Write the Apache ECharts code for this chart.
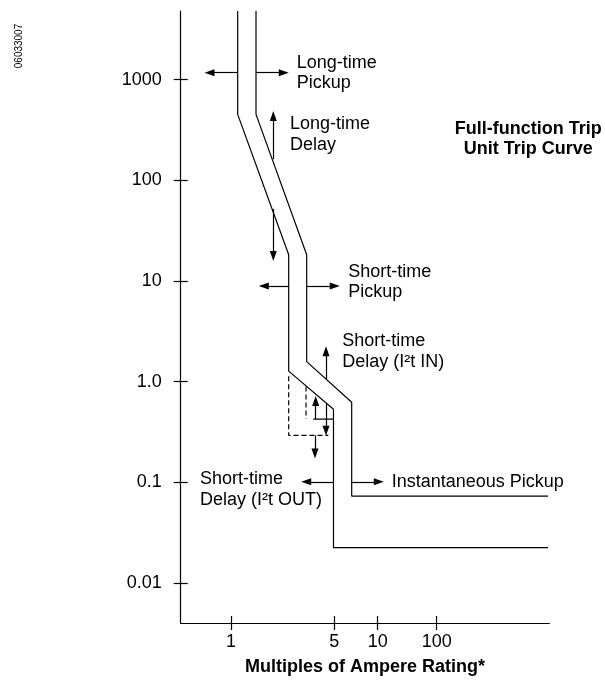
<!DOCTYPE html>
<html>
<head>
<meta charset="utf-8">
<script src="https://cdn.jsdelivr.net/npm/echarts@6/dist/echarts.min.js"></script>
<style>
  html, body { margin: 0; padding: 0; background: #fff; }
  #chart { width: 605px; height: 681px; }
</style>
</head>
<body>
<div id="chart"></div>
<script>
// tick marks (x axis is a schematic scale, not a true log scale)
var yTickValues = [0.01, 0.1, 1, 10, 100, 1000];
var yTickLabels = ['0.01', '0.1', '1.0', '10', '100', '1000'];
var xTickValues = [13.65, 41.67, 53.45, 69.45];
var xTickLabels = ['1', '5', '10', '100'];

// trip band: lower (left) and upper (right) boundaries
var lowerX = [15.46, 15.46, 29.3, 29.3, 41.45, 41.45, 99.65];
var lowerY = [4800, 451, 18.2, 1.27, 0.532, 0.0224, 0.0224];
var upperX = [20.43, 20.43, 34.18, 34.18, 46.39, 46.39, 99.65];
var upperY = [4800, 451, 18.2, 1.58, 0.624, 0.0729, 0.0729];

// I2t OUT dashed outlines
var dashOuterX = [29.3, 29.3, 40.04];
var dashOuterY = [1.13, 0.292, 0.292];
var dashInnerX = [34.0, 34.0];
var dashInnerY = [0.893, 0.424];
var stepX = [35.97, 41.45];
var stepY = [0.424, 0.424];

// adjustment arrows: [xFrom, yFrom, xTo, yTo]
var ltPickupLeft = [15.46, 1170, 7.81, 1170];
var ltPickupRight = [20.43, 1170, 27.97, 1170];
var ltDelayUp = [25.12, 162, 25.12, 435];
var ltDelayDown = [25.12, 51.9, 25.12, 17.7];
var stPickupLeft = [29.3, 8.91, 22.54, 8.91];
var stPickupRight = [34.18, 8.91, 41.8, 8.91];
var i2tInUp = [39.42, 1.04, 39.42, 2.0];
var innerUp = [36.62, 0.424, 36.62, 0.641];
var innerDown = [39.42, 0.6, 39.42, 0.324];
var outerDown = [36.43, 0.292, 36.43, 0.193];
var i2tOutLeft = [41.45, 0.101, 34.05, 0.101];
var instRight = [46.39, 0.101, 53.74, 0.101];

var arrows = [ltPickupLeft, ltPickupRight, ltDelayUp, ltDelayDown, stPickupLeft,
    stPickupRight, i2tInUp, innerUp, innerDown, outerDown, i2tOutLeft, instRight];

function zip(xs, ys) {
    return xs.map(function (x, i) { return [x, ys[i]]; });
}

function yLabel(v) {
    var best = 0;
    for (var i = 1; i < yTickValues.length; i++) {
        if (Math.abs(Math.log10(v) - Math.log10(yTickValues[i])) <
            Math.abs(Math.log10(v) - Math.log10(yTickValues[best]))) best = i;
    }
    return yTickLabels[best];
}
function xLabel(v) {
    var best = 0;
    for (var i = 1; i < xTickValues.length; i++) {
        if (Math.abs(v - xTickValues[i]) < Math.abs(v - xTickValues[best])) best = i;
    }
    return xTickLabels[best];
}

var FONT = '"Liberation Sans", Arial, sans-serif';
var ink = '#000';

var dom = document.getElementById('chart');
var myChart = echarts.init(dom, null, { renderer: 'canvas' });

var lineStyle = { color: ink, width: 1.2 };

var option = {
    animation: false,
    grid: { left: 180.7, right: 55.7, top: 11, bottom: 55.7 },
    xAxis: [
        {
            type: 'value', min: 0, max: 100,
            splitLine: { show: false },
            axisLine: { lineStyle: { color: ink, width: 1.2 } },
            axisTick: { customValues: xTickValues, length: 7, lineStyle: { color: ink, width: 1.2 } },
            axisLabel: {
                customValues: xTickValues, formatter: xLabel, margin: 10,
                color: ink, fontSize: 18, fontFamily: FONT
            },
            name: 'Multiples of Ampere Rating*',
            nameLocation: 'middle', nameGap: 35,
            nameTextStyle: { color: ink, fontSize: 18, fontWeight: 'bold', fontFamily: FONT }
        },
        {
            type: 'value', min: 0, max: 100, position: 'bottom',
            splitLine: { show: false },
            axisLine: { show: false },
            axisTick: { customValues: xTickValues, inside: true, length: 7, lineStyle: { color: ink, width: 1.2 } },
            axisLabel: { show: false }
        }
    ],
    yAxis: [
        {
            type: 'log', min: 0.004, max: 4800,
            splitLine: { show: false },
            axisLine: { lineStyle: { color: ink, width: 1.2 } },
            axisTick: { customValues: yTickValues, length: 7, lineStyle: { color: ink, width: 1.2 } },
            axisLabel: {
                customValues: yTickValues, formatter: yLabel, margin: 19,
                color: ink, fontSize: 18, fontFamily: FONT
            }
        },
        {
            type: 'log', min: 0.004, max: 4800, position: 'left',
            splitLine: { show: false },
            axisLine: { show: false },
            axisTick: { customValues: yTickValues, inside: true, length: 7, lineStyle: { color: ink, width: 1.2 } },
            axisLabel: { show: false }
        }
    ],
    series: [
        {
            name: 'lower', type: 'line', data: zip(lowerX, lowerY),
            symbol: 'none', lineStyle: lineStyle, silent: true,
            markLine: {
                silent: true, animation: false,
                symbol: ['none', 'triangle'], symbolSize: [7, 10],
                label: { show: false },
                lineStyle: { color: ink, width: 1.2, type: 'solid' },
                emphasis: { disabled: true },
                data: arrows.map(function (a) {
                    return [{ coord: [a[0], a[1]] }, { coord: [a[2], a[3]] }];
                })
            }
        },
        {
            name: 'upper', type: 'line', data: zip(upperX, upperY),
            symbol: 'none', lineStyle: lineStyle, silent: true
        },
        {
            name: 'dashOuter', type: 'line', data: zip(dashOuterX, dashOuterY),
            symbol: 'none', silent: true,
            lineStyle: { color: ink, width: 1.2, type: [5, 3] }
        },
        {
            name: 'dashInner', type: 'line', data: zip(dashInnerX, dashInnerY),
            symbol: 'none', silent: true,
            lineStyle: { color: ink, width: 1.2, type: [5, 3] }
        },
        {
            name: 'step', type: 'line', data: zip(stepX, stepY),
            symbol: 'none', lineStyle: lineStyle, silent: true
        }
    ],
    graphic: [
        { type: 'text', x: 19, y: 46, rotation: Math.PI / 2,
          style: { text: '06033007', font: '10px ' + FONT, fill: ink, textAlign: 'center', textVerticalAlign: 'middle' } },
        { type: 'text', x: 296.7, y: 53,
          style: { text: 'Long-time\nPickup', font: '18px ' + FONT, fill: ink, lineHeight: 20 } },
        { type: 'text', x: 290, y: 114,
          style: { text: 'Long-time\nDelay', font: '18px ' + FONT, fill: ink, lineHeight: 21 } },
        { type: 'text', x: 528.3, y: 119,
          style: { text: 'Full-function Trip\nUnit Trip Curve', font: 'bold 18px ' + FONT, fill: ink, lineHeight: 20, textAlign: 'center' } },
        { type: 'text', x: 348.3, y: 261.7,
          style: { text: 'Short-time\nPickup', font: '18px ' + FONT, fill: ink, lineHeight: 20 } },
        { type: 'text', x: 342.3, y: 331,
          style: { text: 'Short-time\nDelay (I\u00b2t IN)', font: '18px ' + FONT, fill: ink, lineHeight: 21 } },
        { type: 'text', x: 200, y: 469,
          style: { text: 'Short-time\nDelay (I\u00b2t OUT)', font: '18px ' + FONT, fill: ink, lineHeight: 20.5 } },
        { type: 'text', x: 391.7, y: 472,
          style: { text: 'Instantaneous Pickup', font: '18px ' + FONT, fill: ink, lineHeight: 20 } }
    ]
};

myChart.setOption(option);
window.onresize = myChart.resize;
</script>
</body>
</html>
